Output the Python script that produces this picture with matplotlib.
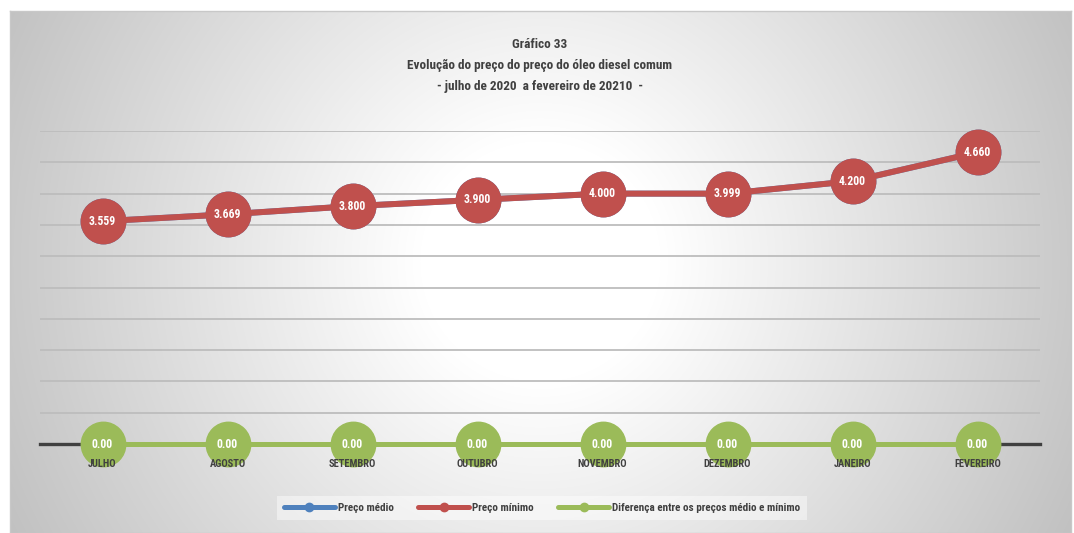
import numpy as np
import matplotlib
matplotlib.use("Agg")
import matplotlib.pyplot as plt
from matplotlib.lines import Line2D

# chart data
meses = ["JULHO", "AGOSTO", "SETEMBRO", "OUTUBRO", "NOVEMBRO", "DEZEMBRO", "JANEIRO", "FEVEREIRO"]
preco_medio = [3.559, 3.669, 3.800, 3.900, 4.000, 3.999, 4.200, 4.660]
preco_minimo = [3.559, 3.669, 3.800, 3.900, 4.000, 3.999, 4.200, 4.660]
diferenca = [0.00, 0.00, 0.00, 0.00, 0.00, 0.00, 0.00, 0.00]
titulo = ["Gráfico 33",
          "Evolução do preço do preço do óleo diesel comum",
          "- julho de 2020  a fevereiro de 20210  -"]
legenda = ["Preço médio", "Preço mínimo", "Diferença entre os preços médio e mínimo"]

# colours
azul = "#4F81BD"
vermelho = "#C0504D"
verde = "#9BBB59"
escuro = "#404040"

plt.rcParams['font.family'] = ['Roboto Condensed', 'DejaVu Sans Condensed', 'Roboto', 'DejaVu Sans']
plt.rcParams['font.stretch'] = 'condensed'
plt.rcParams['font.weight'] = 'bold'

W, H = 1074, 533
fig = plt.figure(figsize=(W / 100, H / 100), dpi=100)
fig.patch.set_facecolor("white")

# radial gradient background of the chart area
bg = fig.add_axes([10 / W, 0, 1061 / W, 522 / H], zorder=-10)
xx, yy = np.meshgrid(np.arange(1061), np.arange(522))
d = np.hypot(xx - 530, yy - 250)
t = np.clip((d - 120) / 470, 0, 1)
grey = 1.0 - 0.24 * t
bg.imshow(np.dstack([grey, grey, grey]), aspect="auto", extent=[0, 1, 0, 1])
bg.set_xlim(0, 1)
bg.set_ylim(0, 1)
bg.set_xticks([])
bg.set_yticks([])
for s in bg.spines.values():
    s.set_color("#C8C8C8")
    s.set_linewidth(1)

# main plot axes
ax = fig.add_axes([40 / W, (H - 444) / H, 1000 / W, 313 / H])
ax.patch.set_alpha(0)
x = np.arange(len(meses))
ax.set_xlim(-0.5, len(meses) - 0.5)
ax.set_ylim(0, 5)
ax.set_yticks(np.arange(0.5, 5.01, 0.5))
ax.yaxis.grid(True, color="#BDBDBD", linewidth=1.3)
ax.set_axisbelow(True)
ax.tick_params(left=False, bottom=False, labelleft=False, labelbottom=False)
for s in ["top", "right", "left"]:
    ax.spines[s].set_visible(False)
ax.spines["bottom"].set_color(escuro)
ax.spines["bottom"].set_linewidth(2.4)

ms = 32
ax.plot(x, preco_medio, color=azul, lw=4.3, marker="o", ms=ms, zorder=3, clip_on=False)
ax.plot(x, preco_minimo, color=vermelho, lw=4.3, marker="o", ms=ms, zorder=4, clip_on=False)
ax.plot(x, diferenca, color=verde, lw=3.6, marker="o", ms=ms, zorder=4, clip_on=False)

# data labels
for xi, v in zip(x, preco_minimo):
    ax.text(xi, v, f"{v:.3f}", color="white", fontsize=8.5, fontweight="bold",
            ha="center", va="center", zorder=6)
for xi, v in zip(x, diferenca):
    ax.text(xi, v, f"{v:.2f}", color="white", fontsize=8.5, fontweight="bold",
            ha="center", va="center", zorder=6)

# category labels drawn over the markers
trans = ax.get_xaxis_transform()
for xi, m in zip(x, meses):
    ax.text(xi, -20 / 313, m, transform=trans, color=escuro, fontsize=7.5,
            fontweight="bold", ha="center", va="center", zorder=7)

# title
for i, linha in enumerate(titulo):
    fig.text(540 / W, 1 - (44 + i * 21.5) / H, linha, color=escuro, fontsize=9.5,
             fontweight="bold", ha="center", va="center")

# legend
handles = [Line2D([], [], color=c, lw=3.6, marker="o", ms=6, solid_capstyle="round")
           for c in [azul, vermelho, verde]]
leg = fig.legend(handles, legenda, loc="center", bbox_to_anchor=(542 / W, 1 - 508 / H),
                 ncol=3, frameon=True, fontsize=8, handlelength=4.6, handletextpad=0.25,
                 columnspacing=2.2, borderpad=0.6, facecolor="white", edgecolor="none",
                 framealpha=0.45, fancybox=False)
for txt in leg.get_texts():
    txt.set_color(escuro)
    txt.set_fontweight("bold")

fig.savefig("out.png", dpi=100)
